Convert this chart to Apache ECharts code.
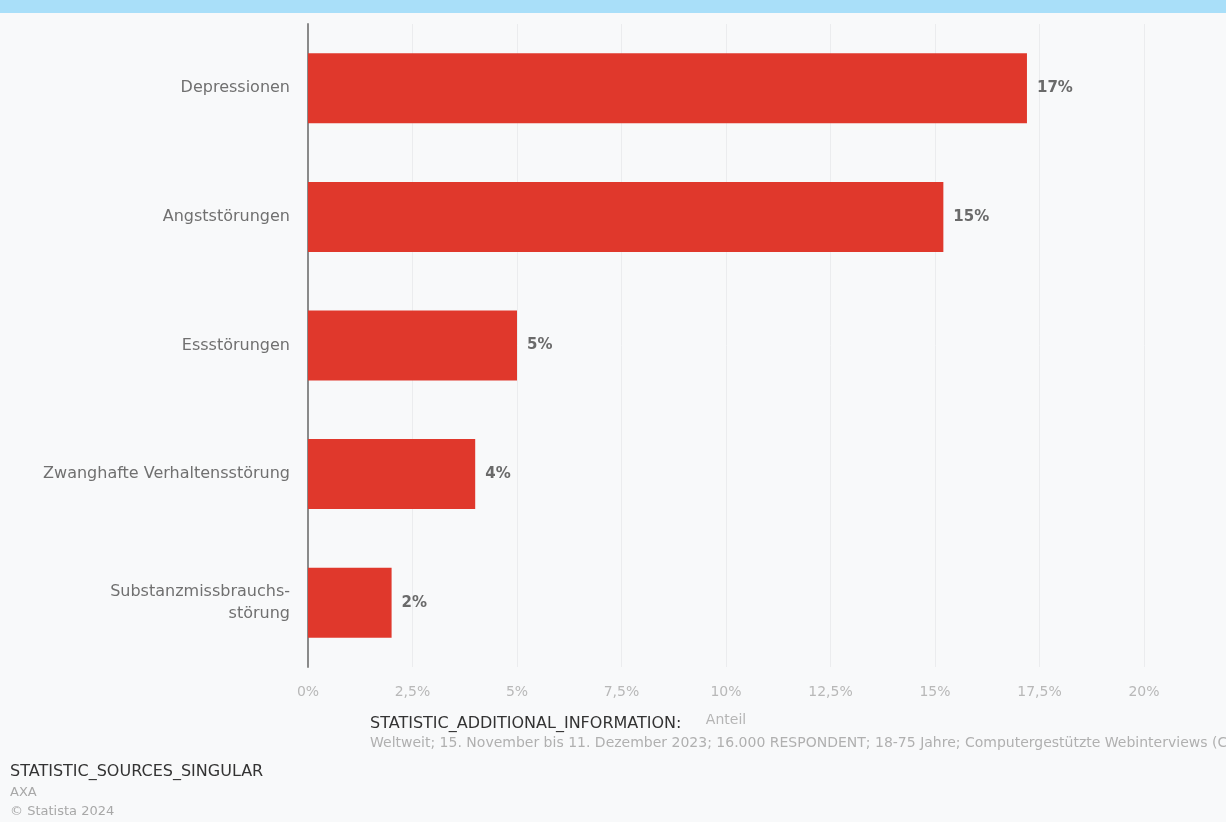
<!DOCTYPE html>
<html><head><meta charset="utf-8">
<script src="https://cdn.jsdelivr.net/npm/echarts@6/dist/echarts.min.js"></script>
<style>html,body{margin:0;padding:0;background:#f8f9fa;}#c{width:1226px;height:822px;}</style>
</head><body><div id="c"></div>
<script>
var categories = ['Depressionen','Angststörungen','Essstörungen','Zwanghafte Verhaltensstörung','Substanzmissbrauchs-\nstörung'];
var values = [17.2, 15.2, 5, 4, 2];
var xTicks = [0, 2.5, 5, 7.5, 10, 12.5, 15, 17.5, 20];

var F = '"DejaVu Sans"';
var chart = echarts.init(document.getElementById('c'), null, {renderer:'canvas'});
chart.setOption({
  backgroundColor: '#f8f9fa',
  animation: false,
  grid: {left: 308, right: 82, top: 24, bottom: 155},
  xAxis: {
    type: 'value', min: 0, max: 20, interval: 2.5,
    name: 'Anteil', nameLocation: 'middle', nameGap: 46,
    nameTextStyle: {color: '#b5b5b5', fontSize: 14, fontFamily: F},
    axisLine: {show: false}, axisTick: {show: false},
    axisLabel: {color: '#b8b8b8', fontSize: 14, fontFamily: F, margin: 18,
      formatter: function(v){ return String(v).replace('.', ',') + '%'; }},
    splitLine: {lineStyle: {color: '#ebecee', width: 1}}
  },
  yAxis: {
    type: 'category', data: categories, inverse: true,
    axisLine: {show: true, lineStyle: {color: '#8a8a8a', width: 2}},
    axisTick: {show: false},
    axisLabel: {color: '#707070', fontSize: 16, fontFamily: F, margin: 18, lineHeight: 22, align: 'right'}
  },
  series: [{
    type: 'bar', data: values, barWidth: 70,
    itemStyle: {color: '#e0382c'},
    label: {show: true, position: 'right', distance: 10, color: '#6a6a6a', fontSize: 15, fontWeight: 'bold', fontFamily: F,
      formatter: function(p){ return Math.round(p.value) + '%'; }}
  }],
  graphic: [
    {type: 'rect', left: 0, top: 0, shape: {width: 1226, height: 13}, style: {fill: '#a9dff9'}},
    {type: 'text', left: 370, top: 716, style: {text: 'STATISTIC_ADDITIONAL_INFORMATION:', fill: '#333', font: '16px "DejaVu Sans"'}},
    {type: 'text', left: 370, top: 736, style: {text: 'Weltweit; 15. November bis 11. Dezember 2023; 16.000 RESPONDENT; 18-75 Jahre; Computergestützte Webinterviews (CAWI)', fill: '#b0b0b0', font: '14px "DejaVu Sans"'}},
    {type: 'text', left: 10, top: 764, style: {text: 'STATISTIC_SOURCES_SINGULAR', fill: '#333', font: '16px "DejaVu Sans"'}},
    {type: 'text', left: 10, top: 786, style: {text: 'AXA', fill: '#a8a8a8', font: '13px "DejaVu Sans"'}},
    {type: 'text', left: 10, top: 805, style: {text: '© Statista 2024', fill: '#a8a8a8', font: '13px "DejaVu Sans"'}}
  ]
});
</script></body></html>
